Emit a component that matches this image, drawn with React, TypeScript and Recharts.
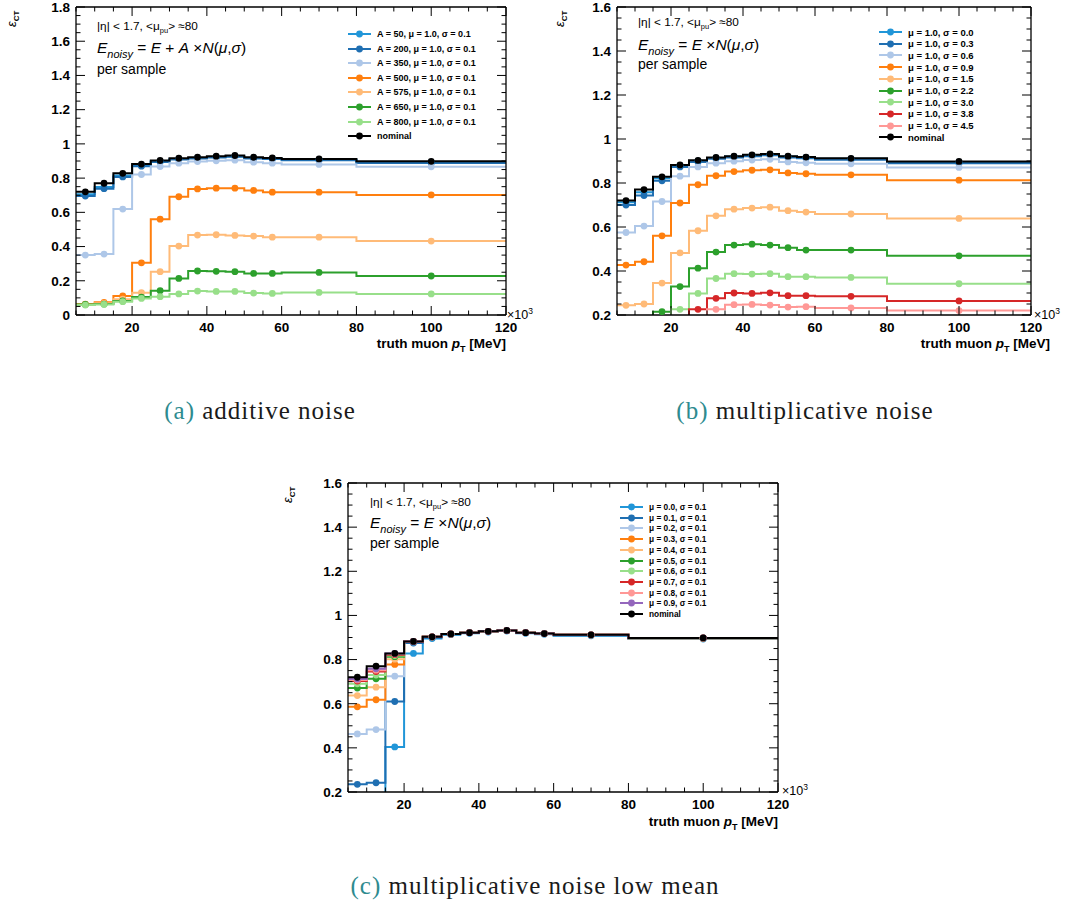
import React from "react";
import { ComposedChart, Line, Scatter, XAxis, YAxis } from "recharts";

// pT bins (MeV x 10^3)
const binEdges = [5, 10, 15, 20, 25, 30, 35, 40, 45, 50, 55, 60, 80, 120];
const binCenters = [7.5, 12.5, 17.5, 22.5, 27.5, 32.5, 37.5, 42.5, 47.5, 52.5, 57.5, 70, 100];

const xLabelTicks = [20, 40, 60, 80, 100, 120];
const xAllTicks = [5, 10, 15, 20, 25, 30, 35, 40, 45, 50, 55, 60, 65, 70, 75, 80, 85, 90, 95, 100, 105, 110, 115, 120];
const yTicksA = [0, 0.2, 0.4, 0.6, 0.8, 1, 1.2, 1.4, 1.6, 1.8];
const yTicksB = [0.2, 0.4, 0.6, 0.8, 1, 1.2, 1.4, 1.6];

const nominal = [0.72, 0.77, 0.828, 0.882, 0.903, 0.916, 0.922, 0.928, 0.932, 0.922, 0.918, 0.912, 0.898];

// (a) additive noise
const addA50 = [0.705, 0.748, 0.815, 0.876, 0.898, 0.912, 0.918, 0.924, 0.928, 0.918, 0.914, 0.908, 0.893];
const addA200 = [0.695, 0.738, 0.807, 0.87, 0.894, 0.909, 0.915, 0.921, 0.925, 0.915, 0.911, 0.905, 0.889];
const addA350 = [0.35, 0.356, 0.619, 0.821, 0.868, 0.887, 0.897, 0.901, 0.905, 0.893, 0.887, 0.88, 0.866];
const addA500 = [0.064, 0.074, 0.111, 0.305, 0.56, 0.691, 0.737, 0.741, 0.741, 0.728, 0.718, 0.718, 0.702];
const addA575 = [0.062, 0.068, 0.092, 0.13, 0.253, 0.403, 0.467, 0.469, 0.465, 0.461, 0.455, 0.455, 0.432];
const addA650 = [0.062, 0.064, 0.082, 0.105, 0.142, 0.214, 0.257, 0.255, 0.253, 0.243, 0.243, 0.249, 0.228];
const addA800 = [0.058, 0.062, 0.078, 0.097, 0.107, 0.123, 0.14, 0.138, 0.138, 0.128, 0.126, 0.132, 0.123];

// (b) multiplicative noise
const mulS00 = [0.712, 0.758, 0.822, 0.88, 0.9, 0.914, 0.92, 0.926, 0.93, 0.92, 0.916, 0.91, 0.895];
const mulS03 = [0.7, 0.743, 0.81, 0.873, 0.896, 0.91, 0.916, 0.922, 0.926, 0.916, 0.912, 0.906, 0.89];
const mulS06 = [0.575, 0.604, 0.716, 0.831, 0.873, 0.89, 0.899, 0.904, 0.908, 0.896, 0.892, 0.887, 0.871];
const mulS09 = [0.427, 0.442, 0.56, 0.709, 0.792, 0.833, 0.852, 0.858, 0.86, 0.846, 0.842, 0.837, 0.813];
const mulS15 = [0.244, 0.25, 0.345, 0.482, 0.583, 0.651, 0.681, 0.686, 0.69, 0.674, 0.668, 0.659, 0.639];
const mulS22 = [0.15, 0.16, 0.215, 0.329, 0.413, 0.486, 0.518, 0.522, 0.518, 0.506, 0.495, 0.495, 0.469];
const mulS30 = [0.12, 0.13, 0.17, 0.226, 0.298, 0.366, 0.388, 0.386, 0.388, 0.374, 0.374, 0.371, 0.342];
const mulS38 = [0.09, 0.1, 0.13, 0.17, 0.226, 0.276, 0.3, 0.298, 0.301, 0.288, 0.288, 0.285, 0.264];
const mulS45 = [0.08, 0.09, 0.11, 0.14, 0.18, 0.226, 0.247, 0.248, 0.245, 0.236, 0.238, 0.232, 0.22];

// (c) multiplicative noise, low mean
const lowM00 = [0.12, 0.15, 0.404, 0.828, 0.895, 0.913, 0.919, 0.925, 0.929, 0.919, 0.915, 0.908, 0.893];
const lowM01 = [0.235, 0.242, 0.61, 0.875, 0.9, 0.915, 0.921, 0.927, 0.931, 0.921, 0.917, 0.91, 0.896];
const lowM02 = [0.463, 0.483, 0.725, 0.88, 0.902, 0.916, 0.922, 0.927, 0.931, 0.921, 0.917, 0.911, 0.897];
const lowM03 = [0.586, 0.618, 0.778, 0.882, 0.903, 0.916, 0.922, 0.928, 0.932, 0.922, 0.918, 0.912, 0.897];
const lowM04 = [0.637, 0.675, 0.802, 0.882, 0.903, 0.916, 0.922, 0.928, 0.932, 0.922, 0.918, 0.912, 0.897];
const lowM05 = [0.671, 0.713, 0.813, 0.882, 0.903, 0.916, 0.922, 0.928, 0.932, 0.922, 0.918, 0.912, 0.898];
const lowM06 = [0.69, 0.73, 0.818, 0.882, 0.903, 0.916, 0.922, 0.928, 0.932, 0.922, 0.918, 0.912, 0.898];
const lowM07 = [0.703, 0.746, 0.822, 0.882, 0.903, 0.916, 0.922, 0.928, 0.932, 0.922, 0.918, 0.912, 0.898];
const lowM08 = [0.708, 0.752, 0.825, 0.882, 0.903, 0.916, 0.922, 0.928, 0.932, 0.922, 0.918, 0.912, 0.898];
const lowM09 = [0.712, 0.758, 0.828, 0.882, 0.903, 0.916, 0.922, 0.928, 0.932, 0.922, 0.918, 0.912, 0.898];

const C = {
  cyan: "#2196d8",
  blue: "#1f6fb2",
  lblue: "#aec7e8",
  orange: "#ff7f0e",
  lorange: "#ffbb78",
  green: "#2ca02c",
  lgreen: "#98df8a",
  red: "#d62728",
  pink: "#ff9896",
  purple: "#9467bd",
  black: "#000000",
};

type Series = { label: string; color: string; values: number[] };

const seriesA: Series[] = [
  { label: "A = 50,  \u03bc = 1.0,  \u03c3 = 0.1", color: C.cyan, values: addA50 },
  { label: "A = 200,  \u03bc = 1.0,  \u03c3 = 0.1", color: C.blue, values: addA200 },
  { label: "A = 350,  \u03bc = 1.0,  \u03c3 = 0.1", color: C.lblue, values: addA350 },
  { label: "A = 500,  \u03bc = 1.0,  \u03c3 = 0.1", color: C.orange, values: addA500 },
  { label: "A = 575,  \u03bc = 1.0,  \u03c3 = 0.1", color: C.lorange, values: addA575 },
  { label: "A = 650,  \u03bc = 1.0,  \u03c3 = 0.1", color: C.green, values: addA650 },
  { label: "A = 800,  \u03bc = 1.0,  \u03c3 = 0.1", color: C.lgreen, values: addA800 },
  { label: "nominal", color: C.black, values: nominal },
];

const seriesB: Series[] = [
  { label: "\u03bc = 1.0,  \u03c3 = 0.0", color: C.cyan, values: mulS00 },
  { label: "\u03bc = 1.0,  \u03c3 = 0.3", color: C.blue, values: mulS03 },
  { label: "\u03bc = 1.0,  \u03c3 = 0.6", color: C.lblue, values: mulS06 },
  { label: "\u03bc = 1.0,  \u03c3 = 0.9", color: C.orange, values: mulS09 },
  { label: "\u03bc = 1.0,  \u03c3 = 1.5", color: C.lorange, values: mulS15 },
  { label: "\u03bc = 1.0,  \u03c3 = 2.2", color: C.green, values: mulS22 },
  { label: "\u03bc = 1.0,  \u03c3 = 3.0", color: C.lgreen, values: mulS30 },
  { label: "\u03bc = 1.0,  \u03c3 = 3.8", color: C.red, values: mulS38 },
  { label: "\u03bc = 1.0,  \u03c3 = 4.5", color: C.pink, values: mulS45 },
  { label: "nominal", color: C.black, values: nominal },
];

const seriesC: Series[] = [
  { label: "\u03bc = 0.0,  \u03c3 = 0.1", color: C.cyan, values: lowM00 },
  { label: "\u03bc = 0.1,  \u03c3 = 0.1", color: C.blue, values: lowM01 },
  { label: "\u03bc = 0.2,  \u03c3 = 0.1", color: C.lblue, values: lowM02 },
  { label: "\u03bc = 0.3,  \u03c3 = 0.1", color: C.orange, values: lowM03 },
  { label: "\u03bc = 0.4,  \u03c3 = 0.1", color: C.lorange, values: lowM04 },
  { label: "\u03bc = 0.5,  \u03c3 = 0.1", color: C.green, values: lowM05 },
  { label: "\u03bc = 0.6,  \u03c3 = 0.1", color: C.lgreen, values: lowM06 },
  { label: "\u03bc = 0.7,  \u03c3 = 0.1", color: C.red, values: lowM07 },
  { label: "\u03bc = 0.8,  \u03c3 = 0.1", color: C.pink, values: lowM08 },
  { label: "\u03bc = 0.9,  \u03c3 = 0.1", color: C.purple, values: lowM09 },
  { label: "nominal", color: C.black, values: nominal },
];

const SANS = "'Liberation Sans', Arial, Helvetica, sans-serif";
const SERIF = "'Liberation Serif', 'Times New Roman', serif";

// histogram-style rows: one row per lower bin edge, plus the last upper edge
const stepRows = (values: number[]) => [
  ...binEdges.slice(0, -1).map((x, i) => ({ x, y: values[i] })),
  { x: binEdges[binEdges.length - 1], y: values[values.length - 1] },
];
const pointRows = (values: number[]) => binCenters.map((x, i) => ({ x, y: values[i] }));

const withMinor = (lo: number, hi: number) => {
  const out: number[] = [];
  for (let v = lo; v <= hi + 1e-9; v += 0.05) out.push(Math.round(v * 100) / 100);
  return out;
};

type Geo = { top: number; bottom: number; left: number; right: number };

const FRAME_W = 1.3;
const TICK_FS = 13.5;

// ROOT-style ticks: inward on both sides, labels only on major ticks
const makeXTick = (g: Geo) => (props: any) => {
  const { x, payload } = props;
  const v = payload.value as number;
  const major = xLabelTicks.includes(v);
  const len = major ? 9 : 4.5;
  return (
    <g>
      <line x1={x} x2={x} y1={g.bottom} y2={g.bottom - len} stroke="#000" strokeWidth={1} />
      <line x1={x} x2={x} y1={g.top} y2={g.top + len} stroke="#000" strokeWidth={1} />
      {v === 120 && <line x1={x} x2={x} y1={g.top} y2={g.bottom} stroke="#000" strokeWidth={FRAME_W} />}
      {major && (
        <text x={x} y={g.bottom + 17} textAnchor="middle" fontFamily={SANS} fontSize={TICK_FS} fontWeight={700} fill="#000">
          {v}
        </text>
      )}
    </g>
  );
};

const makeYTick = (g: Geo, majors: number[], top: number) => (props: any) => {
  const { y, payload } = props;
  const v = payload.value as number;
  const major = majors.includes(v);
  const len = major ? 9 : 4.5;
  return (
    <g>
      <line x1={g.left} x2={g.left + len} y1={y} y2={y} stroke="#000" strokeWidth={1} />
      <line x1={g.right} x2={g.right - len} y1={y} y2={y} stroke="#000" strokeWidth={1} />
      {v === top && <line x1={g.left} x2={g.right} y1={y} y2={y} stroke="#000" strokeWidth={FRAME_W} />}
      {major && (
        <text x={g.left - 6} y={y + 4.8} textAnchor="end" fontFamily={SANS} fontSize={TICK_FS} fontWeight={700} fill="#000">
          {String(v)}
        </text>
      )}
    </g>
  );
};

interface PanelProps {
  left: number;
  top: number;
  width: number;
  height: number;
  margin: { top: number; right: number; bottom: number; left: number };
  yWidth: number;
  yDomain: [number, number];
  yTicks: number[];
  series: Series[];
  formula: React.ReactNode;
  ann: { x: number; y: number[] };
  legend: { x: number; y: number; dy: number; fs: number };
  eps: { x: number; y: number };
  times: { x: number; y: number };
  xTitle: { right: number; y: number };
}

const X_H = 30;

function Panel(p: PanelProps) {
  const geo: Geo = {
    top: p.margin.top,
    bottom: p.height - p.margin.bottom - X_H,
    left: p.margin.left + p.yWidth,
    right: p.width - p.margin.right,
  };
  const yAll = withMinor(p.yDomain[0], p.yDomain[1]);
  return (
    <div style={{ position: "absolute", left: p.left, top: p.top, width: p.width, height: p.height }}>
      <ComposedChart width={p.width} height={p.height} margin={p.margin}>
        <XAxis xAxisId="x" dataKey="x" type="number" domain={[5, 120]} allowDataOverflow ticks={xAllTicks}
          interval={0} tickLine={false} tickSize={0} tickMargin={0} height={X_H}
          axisLine={{ stroke: "#000", strokeWidth: FRAME_W }} tick={makeXTick(geo)} />
        <YAxis yAxisId="y" dataKey="y" type="number" domain={p.yDomain} allowDataOverflow ticks={yAll}
          interval={0} tickLine={false} tickSize={0} tickMargin={0} width={p.yWidth}
          axisLine={{ stroke: "#000", strokeWidth: FRAME_W }} tick={makeYTick(geo, p.yTicks, p.yDomain[1])} />
        {p.series.map((s) => (
          <Line key={"l" + s.label} xAxisId="x" yAxisId="y" data={stepRows(s.values)} dataKey="y"
            type="stepAfter" stroke={s.color} strokeWidth={2} dot={false} activeDot={false}
            isAnimationActive={false} />
        ))}
        {p.series.map((s) => (
          <Scatter key={"s" + s.label} xAxisId="x" yAxisId="y" data={pointRows(s.values)} dataKey="y"
            fill={s.color} isAnimationActive={false}
            shape={(q: any) => <circle cx={q.cx} cy={q.cy} r={3.4} fill={s.color} />} />
        ))}
      </ComposedChart>

      {/* y-axis title */}
      <svg style={{ position: "absolute", left: 0, top: 0, overflow: "visible", pointerEvents: "none" }} width={1} height={1}>
        <text transform={`translate(${p.eps.x},${p.eps.y}) rotate(-90)`} fontFamily={SANS} fontSize={13}
          fontStyle="italic" fill="#000">
          {"\u03b5"}
          <tspan fontSize={8} fontStyle="normal" fontWeight={700} dy={3}>CT</tspan>
        </text>
      </svg>

      {/* annotations */}
      <div style={{ position: "absolute", left: p.ann.x, top: p.ann.y[0] - 8, fontFamily: SANS, fontSize: 11.8, lineHeight: "16px", whiteSpace: "nowrap" }}>
        {"|\u03b7| < 1.7, <\u03bc"}
        <sub style={{ fontSize: 7.5, verticalAlign: "-3px" }}>pu</sub>
        {"> \u224880"}
      </div>
      <div style={{ position: "absolute", left: p.ann.x, top: p.ann.y[1] - 10, fontFamily: SANS, fontSize: 15.5, lineHeight: "20px", whiteSpace: "nowrap" }}>
        {p.formula}
      </div>
      <div style={{ position: "absolute", left: p.ann.x, top: p.ann.y[2] - 9, fontFamily: SANS, fontSize: 14, lineHeight: "18px", whiteSpace: "nowrap" }}>
        per sample
      </div>

      {/* legend */}
      <div style={{ position: "absolute", left: p.legend.x, top: p.legend.y, fontFamily: SANS, fontWeight: 700, fontSize: p.legend.fs }}>
        {p.series.map((s, i) => (
          <div key={s.label} style={{ position: "absolute", left: 0, top: i * p.legend.dy - 6, height: 12, display: "flex", alignItems: "center", whiteSpace: "nowrap" }}>
            <svg width={23} height={12} style={{ flex: "none" }}>
              <line x1={0} x2={23} y1={6} y2={6} stroke={s.color} strokeWidth={2} />
              <circle cx={11.5} cy={6} r={3.4} fill={s.color} />
            </svg>
            <span style={{ marginLeft: 6 }}>{s.label}</span>
          </div>
        ))}
      </div>

      {/* x10^3 */}
      <div style={{ position: "absolute", left: p.times.x, top: p.times.y, fontFamily: SANS, fontSize: 12.5, lineHeight: "14px", whiteSpace: "nowrap" }}>
        {"\u00d710"}
        <sup style={{ fontSize: 8.5, verticalAlign: "5px" }}>3</sup>
      </div>

      {/* x-axis title */}
      <div style={{ position: "absolute", right: p.width - p.xTitle.right, top: p.xTitle.y - 9, fontFamily: SANS, fontSize: 13.5, fontWeight: 700, lineHeight: "18px", whiteSpace: "nowrap" }}>
        {"truth muon  "}
        <i>p</i>
        <sub style={{ fontSize: 9, verticalAlign: "-4px" }}>T</sub>
        {" [MeV]"}
      </div>
    </div>
  );
}

const formulaAdd = (
  <>
    <i>E</i>
    <sub style={{ fontSize: 11, verticalAlign: "-5px" }}><i>noisy</i></sub>
    {" = "}<i>E</i>{" + "}<i>A</i>{" \u00d7"}<i>N</i>(<i>{"\u03bc"}</i>,<i>{"\u03c3"}</i>)
  </>
);
const formulaMul = (
  <>
    <i>E</i>
    <sub style={{ fontSize: 11, verticalAlign: "-5px" }}><i>noisy</i></sub>
    {" = "}<i>E</i>{"  \u00d7"}<i>N</i>(<i>{"\u03bc"}</i>,<i>{"\u03c3"}</i>)
  </>
);

const capStyle: React.CSSProperties = {
  position: "absolute",
  fontFamily: SERIF,
  fontSize: 25,
  letterSpacing: "1px",
  lineHeight: "30px",
  color: "#1a1a1a",
  textAlign: "center",
  whiteSpace: "nowrap",
};
const capLabel: React.CSSProperties = { color: "#2e8b8f" };

export default function App() {
  return (
    <div style={{ position: "absolute", left: 0, top: 0, width: 1083, height: 906, background: "#fff", overflow: "hidden" }}>
      <Panel left={0} top={0} width={540} height={360}
        margin={{ top: 7, right: 34, bottom: 15, left: 0 }} yWidth={76}
        yDomain={[0, 1.8]} yTicks={yTicksA} series={seriesA} formula={formulaAdd}
        ann={{ x: 97, y: [26, 48, 69] }} legend={{ x: 348, y: 34, dy: 14.6, fs: 9 }}
        eps={{ x: 16, y: 27 }} times={{ x: 507, y: 304 }} xTitle={{ right: 506, y: 344 }} />
      <Panel left={540} top={0} width={543} height={360}
        margin={{ top: 7, right: 52, bottom: 15, left: 0 }} yWidth={77}
        yDomain={[0.2, 1.6]} yTicks={yTicksB} series={seriesB} formula={formulaMul}
        ann={{ x: 98, y: [22, 45, 64] }} legend={{ x: 339, y: 32, dy: 11.7, fs: 9.5 }}
        eps={{ x: 24, y: 27 }} times={{ x: 494, y: 304 }} xTitle={{ right: 510, y: 344 }} />
      <Panel left={270} top={470} width={540} height={370}
        margin={{ top: 13, right: 32, bottom: 18, left: 0 }} yWidth={78}
        yDomain={[0.2, 1.6]} yTicks={yTicksB} series={seriesC} formula={formulaMul}
        ann={{ x: 100, y: [32, 53, 73] }} legend={{ x: 350, y: 37, dy: 10.7, fs: 8.3 }}
        eps={{ x: 22, y: 33 }} times={{ x: 512, y: 310 }} xTitle={{ right: 508, y: 352 }} />

      <div style={{ ...capStyle, left: 60, width: 400, top: 396 }}>
        <span style={capLabel}>(a)</span> additive noise
      </div>
      <div style={{ ...capStyle, left: 605, width: 400, top: 396 }}>
        <span style={capLabel}>(b)</span> multiplicative noise
      </div>
      <div style={{ ...capStyle, left: 335, width: 400, top: 871 }}>
        <span style={capLabel}>(c)</span> multiplicative noise low mean
      </div>
    </div>
  );
}
